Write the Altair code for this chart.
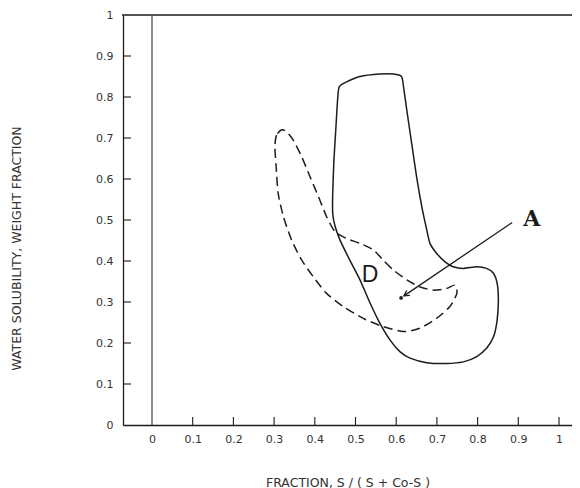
import altair as alt
import pandas as pd

# ---- data ----
x_tick_values = [0, 0.1, 0.2, 0.3, 0.4, 0.5, 0.6, 0.7, 0.8, 0.9, 1]
y_tick_values = [0, 0.1, 0.2, 0.3, 0.4, 0.5, 0.6, 0.7, 0.8, 0.9, 1]
x_inner_ticks = [0.1, 0.2, 0.3, 0.4, 0.5, 0.6, 0.7, 0.8, 0.9, 1]
y_inner_ticks = [0.1, 0.2, 0.3, 0.4, 0.5, 0.6, 0.7, 0.8, 0.9]

solid_x = [0.460, 0.478, 0.511, 0.560, 0.593, 0.613, 0.618, 0.626, 0.638, 0.650,
           0.663, 0.675, 0.683, 0.699, 0.720, 0.740, 0.765, 0.798, 0.822, 0.839,
           0.848, 0.851, 0.848, 0.839, 0.822, 0.798, 0.765, 0.724, 0.675, 0.634,
           0.609, 0.585, 0.560, 0.536, 0.511, 0.486, 0.462, 0.450, 0.444, 0.444,
           0.447, 0.452, 0.456]
solid_y = [0.825, 0.837, 0.850, 0.856, 0.856, 0.850, 0.825, 0.768, 0.687, 0.606,
           0.532, 0.476, 0.443, 0.419, 0.398, 0.386, 0.382, 0.386, 0.382, 0.370,
           0.346, 0.305, 0.256, 0.215, 0.187, 0.167, 0.154, 0.150, 0.152, 0.163,
           0.179, 0.207, 0.248, 0.297, 0.354, 0.402, 0.451, 0.484, 0.516, 0.565,
           0.646, 0.728, 0.793]

dash_x = [0.319, 0.306, 0.302, 0.305, 0.310, 0.323, 0.343, 0.368, 0.396, 0.429,
          0.470, 0.519, 0.568, 0.618, 0.658, 0.699, 0.732, 0.749, 0.744, 0.724,
          0.691, 0.658, 0.626, 0.593, 0.568, 0.544, 0.511, 0.478, 0.450, 0.429,
          0.409, 0.388, 0.368, 0.347, 0.331]
dash_y = [0.720, 0.707, 0.679, 0.630, 0.565, 0.508, 0.451, 0.402, 0.362, 0.321,
          0.289, 0.260, 0.240, 0.228, 0.236, 0.260, 0.289, 0.321, 0.341, 0.333,
          0.329, 0.337, 0.354, 0.378, 0.402, 0.427, 0.443, 0.455, 0.471, 0.508,
          0.557, 0.606, 0.654, 0.695, 0.715]

arrow_x = [0.885, 0.619]
arrow_y = [0.494, 0.315]
dot_x = [0.612]
dot_y = [0.310]
d_label = ["D"]
d_x = [0.536]
d_y = [0.366]
a_label = ["A"]
a_x = [0.933]
a_y = [0.502]

# ---- layout / style ----
W, H = 449, 410
INK = "#1c1c1c"
TXT = "#333333"
FONT = "DejaVu Sans"

xscale = alt.Scale(domain=[-0.07125, 1.0319], nice=False, zero=False)
yscale = alt.Scale(domain=[0, 1], nice=False, zero=False)

x_axis = alt.Axis(
    values=x_tick_values, format="~g", ticks=False, grid=False,
    domain=True, domainColor=INK, domainWidth=1.3,
    labelFont=FONT, labelFontSize=11, labelColor=TXT, labelPadding=8,
    title="FRACTION, S / ( S + Co-S )", titleFont=FONT, titleFontSize=12.5,
    titleFontWeight="normal", titleColor=TXT, titleY=57, titleBaseline="middle",
)
y_axis = alt.Axis(
    values=y_tick_values, format="~g", ticks=False, grid=False,
    domain=True, domainColor=INK, domainWidth=1.3,
    labelFont=FONT, labelFontSize=11, labelColor=TXT, labelPadding=10,
    title="WATER SOLUBILITY, WEIGHT FRACTION", titleFont=FONT, titleFontSize=12.5,
    titleFontWeight="normal", titleColor=TXT, titleAngle=270,
    titleX=-107, titleY=233, titleAlign="center", titleBaseline="middle",
)


def X(f):
    return alt.X(f, type="quantitative", scale=xscale, axis=x_axis)


def Y(f):
    return alt.Y(f, type="quantitative", scale=yscale, axis=y_axis)


solid_df = pd.DataFrame({"x": solid_x, "y": solid_y, "i": range(len(solid_x))})
dash_df = pd.DataFrame({"x": dash_x, "y": dash_y, "i": range(len(dash_x))})
arrow_df = pd.DataFrame({"x": arrow_x, "y": arrow_y, "i": range(len(arrow_x))})
head_df = pd.DataFrame({"x": arrow_x[-1:], "y": arrow_y[-1:]})
dot_df = pd.DataFrame({"x": dot_x, "y": dot_y})
d_df = pd.DataFrame({"t": d_label, "x": d_x, "y": d_y})
a_df = pd.DataFrame({"t": a_label, "x": a_x, "y": a_y})
xt_df = pd.DataFrame({"x": x_inner_ticks})
yt_df = pd.DataFrame({"y": y_inner_ticks})

solid = alt.Chart(solid_df).mark_line(
    interpolate="cardinal-closed", tension=0.3, color=INK, strokeWidth=1.5
).encode(x=X("x"), y=Y("y"), order="i:Q")

dashed = alt.Chart(dash_df).mark_line(
    interpolate="cardinal-closed", tension=0.3, color=INK, strokeWidth=1.5,
    strokeDash=[9, 5],
).encode(x=X("x"), y=Y("y"), order="i:Q")

top_line = alt.Chart(pd.DataFrame({"y": [1]})).mark_rule(
    color=INK, strokeWidth=1.3
).encode(y=Y("y"), x=alt.value(-1), x2=alt.value(W))

zero_line = alt.Chart(pd.DataFrame({"x": [0], "y": [0], "y2": [1]})).mark_rule(
    color="#333333", strokeWidth=1.1
).encode(x=X("x"), y=Y("y"), y2="y2:Q")

xticks = alt.Chart(xt_df).mark_rule(color=INK, strokeWidth=1.1).encode(
    x=X("x"), y=alt.value(H), y2=alt.value(H - 8),
)
yticks = alt.Chart(yt_df).mark_rule(color=INK, strokeWidth=1.1).encode(
    y=Y("y"), x=alt.value(0), x2=alt.value(8),
)

arrow = alt.Chart(arrow_df).mark_line(color=INK, strokeWidth=1.3).encode(
    x=X("x"), y=Y("y"), order="i:Q"
)
head = alt.Chart(head_df).mark_point(
    shape="M-0.55,1L0,0L0.55,1", filled=False, size=110, angle=236,
    color=INK, strokeWidth=1.3, opacity=1,
).encode(x=X("x"), y=Y("y"))
dot = alt.Chart(dot_df).mark_point(
    shape="circle", filled=True, size=14, color=INK, opacity=1
).encode(x=X("x"), y=Y("y"))

lab_d = alt.Chart(d_df).mark_text(
    font="Liberation Sans", fontSize=23, fontWeight="normal", color=INK,
    align="center", baseline="middle"
).encode(x=X("x"), y=Y("y"), text="t:N")
lab_a = alt.Chart(a_df).mark_text(
    font="DejaVu Serif", fontSize=22, fontWeight="bold", color=INK,
    align="center", baseline="middle"
).encode(x=X("x"), y=Y("y"), text="t:N")

chart = alt.layer(
    solid, dashed, top_line, zero_line, xticks, yticks, arrow, head, dot, lab_d, lab_a
).properties(
    width=W, height=H,
    autosize=alt.AutoSizeParams(type="none"),
    padding={"left": 115, "top": 7, "right": 0, "bottom": 63},
    background="white",
).configure_view(strokeWidth=0)

chart.save("out.html", embed_options={"renderer": "svg", "actions": False})
